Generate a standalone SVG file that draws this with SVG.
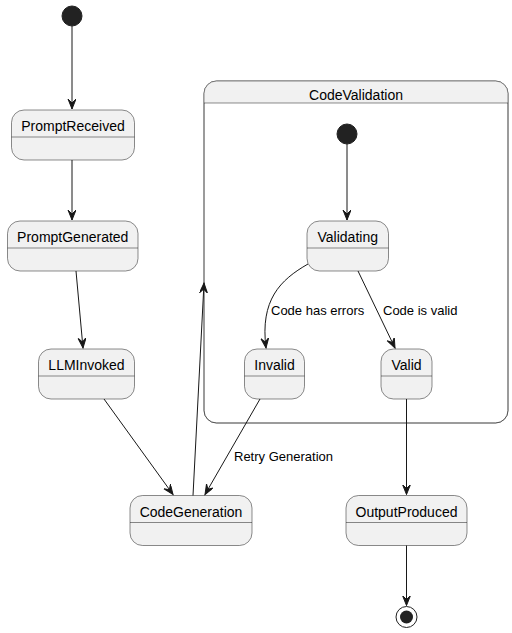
<svg xmlns="http://www.w3.org/2000/svg" width="512" height="633" viewBox="0 0 512 633">
<style>
.st{fill:#F1F1F1;stroke:#181818;stroke-width:0.5}
.dv{stroke:#181818;stroke-width:0.5}
.nm{font-family:"Liberation Sans",Arial,sans-serif;font-size:14px;fill:#000;text-anchor:middle}
.lb{font-family:"Liberation Sans",Arial,sans-serif;font-size:13px;fill:#000}
.ed{fill:none;stroke:#181818;stroke-width:1;marker-end:url(#ah)}
</style>
<defs>
<marker id="ah" markerUnits="userSpaceOnUse" markerWidth="12" markerHeight="10" refX="10" refY="4" orient="auto" viewBox="0 0 12 10">
<path d="M0,0 L10,4 L0,8 L4,4 Z" fill="#181818" stroke="#181818" stroke-width="1"/>
</marker>
</defs>
<rect width="512" height="633" fill="#FFFFFF"/>
<g id="CodeValidation">
<rect x="204" y="81" width="304" height="342" rx="12.5" ry="12.5" class="st" fill="#FFFFFF" style="fill:#FFFFFF"/>
<path d="M204,93.5 A12.5,12.5 0 0 1 216.5,81 L495.5,81 A12.5,12.5 0 0 1 508,93.5 L508,103 L204,103 Z" fill="#F1F1F1" stroke="none"/>
<line x1="204" y1="103" x2="508" y2="103" class="dv"/>
<rect x="204" y="81" width="304" height="342" rx="12.5" ry="12.5" fill="none" stroke="#181818" stroke-width="0.5"/>
<text x="356" y="100" class="nm">CodeValidation</text>
</g>
<g id="start"><circle cx="72" cy="16" r="10" fill="#222222" stroke="#222222"/></g>
<g id="PromptReceived">
<rect x="11.5" y="110" width="123" height="50" rx="12.5" ry="12.5" class="st"/>
<line x1="11.5" y1="137" x2="134.5" y2="137" class="dv"/>
<text x="73" y="131" class="nm">PromptReceived</text>
</g>
<g id="PromptGenerated">
<rect x="7.5" y="221" width="130.5" height="50" rx="12.5" ry="12.5" class="st"/>
<line x1="7.5" y1="248" x2="138" y2="248" class="dv"/>
<text x="72.75" y="242" class="nm">PromptGenerated</text>
</g>
<g id="LLMInvoked">
<rect x="38.5" y="349" width="96" height="50" rx="12.5" ry="12.5" class="st"/>
<line x1="38.5" y1="376" x2="134.5" y2="376" class="dv"/>
<text x="86.5" y="370" class="nm">LLMInvoked</text>
</g>
<g id="CodeGeneration">
<rect x="130" y="495.5" width="122" height="50" rx="12.5" ry="12.5" class="st"/>
<line x1="130" y1="522.5" x2="252" y2="522.5" class="dv"/>
<text x="191" y="516.5" class="nm">CodeGeneration</text>
</g>
<g id="innerStart"><circle cx="347" cy="134" r="10" fill="#222222" stroke="#222222"/></g>
<g id="Validating">
<rect x="307" y="221" width="81.5" height="50" rx="12.5" ry="12.5" class="st"/>
<line x1="307" y1="248" x2="388.5" y2="248" class="dv"/>
<text x="347.75" y="242" class="nm">Validating</text>
</g>
<g id="Invalid">
<rect x="244.5" y="349" width="60" height="50" rx="12.5" ry="12.5" class="st"/>
<line x1="244.5" y1="376" x2="304.5" y2="376" class="dv"/>
<text x="274.5" y="370" class="nm">Invalid</text>
</g>
<g id="Valid">
<rect x="381" y="349" width="51" height="50" rx="12.5" ry="12.5" class="st"/>
<line x1="381" y1="376" x2="432" y2="376" class="dv"/>
<text x="406.5" y="370" class="nm">Valid</text>
</g>
<g id="OutputProduced">
<rect x="346" y="495.5" width="121" height="50" rx="12.5" ry="12.5" class="st"/>
<line x1="346" y1="522.5" x2="467" y2="522.5" class="dv"/>
<text x="406.5" y="516.5" class="nm">OutputProduced</text>
</g>
<g id="end">
<circle cx="406.5" cy="617" r="10.5" fill="none" stroke="#222222" stroke-width="1"/>
<circle cx="406.5" cy="617" r="6.5" fill="#222222" stroke="none"/>
</g>
<g id="connectors">
<path d="M72,26 L72,109" class="ed"/>
<path d="M72,160 L72,220" class="ed"/>
<path d="M76,271 L83,348" class="ed"/>
<path d="M104,399 L173,494.5" class="ed"/>
<path d="M193,495.5 L204,283" class="ed"/>
<path d="M260,399 L205,494.5" class="ed"/>
<path d="M347,144 L347,220" class="ed"/>
<path d="M308,264 C280,280 260,300 266,348" class="ed"/>
<path d="M358,271 L395,348" class="ed"/>
<path d="M406.5,399 L406.5,494.5" class="ed"/>
<path d="M406.5,545.5 L406.5,605.5" class="ed"/>
<text x="271" y="315" class="lb">Code has errors</text>
<text x="383" y="315" class="lb">Code is valid</text>
<text x="234" y="461" class="lb">Retry Generation</text>
</g>
</svg>
